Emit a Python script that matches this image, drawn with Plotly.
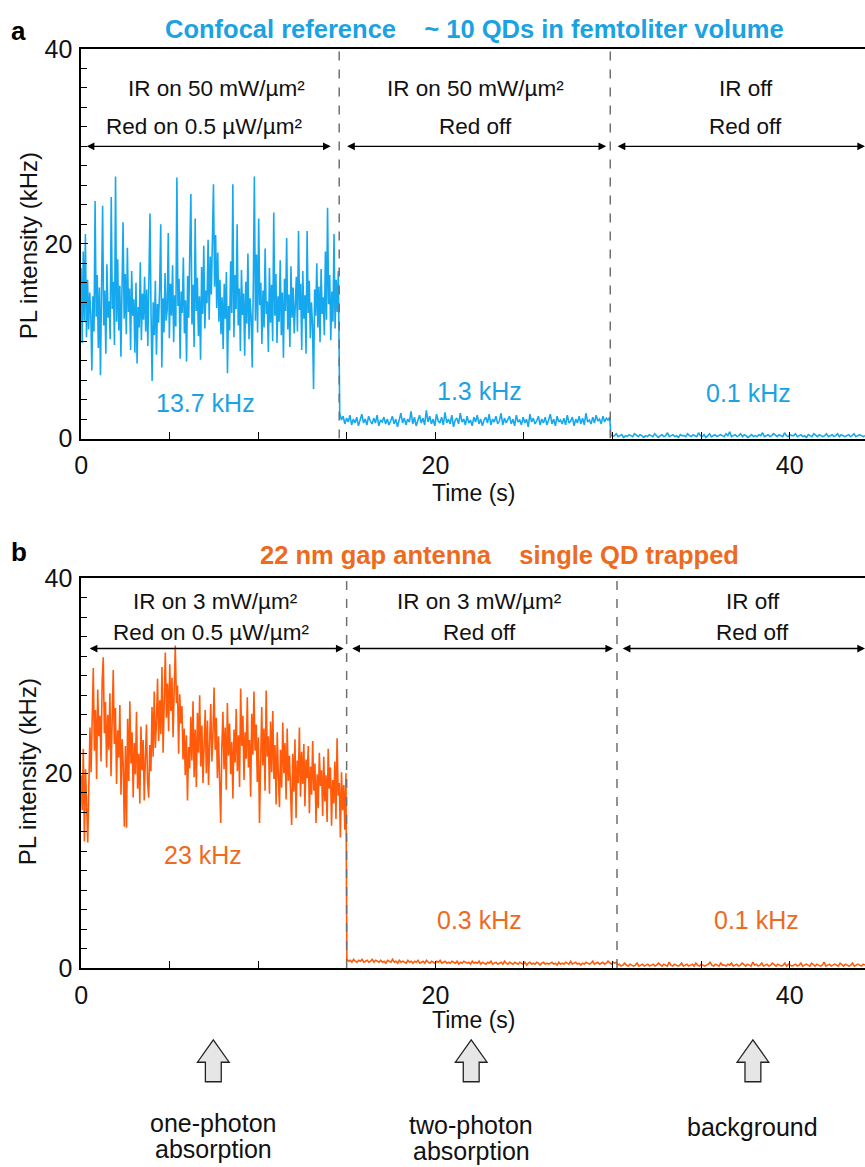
import numpy as np
import plotly.graph_objects as go

# ---------------- data (kHz) ----------------
# Panel a: confocal reference
a_seg1 = [17.5, 9.8, 19.2, 12.1, 21.0, 10.4, 16.3, 11.2, 15.0, 12.8, 7.0, 14.6, 11.0, 24.4, 12.5, 16.8, 9.3, 15.5, 6.5, 13.9,
          23.9, 11.6, 15.2, 8.7, 17.9, 12.4, 14.1, 10.2, 24.8, 13.3, 16.1, 9.6, 26.9, 12.0, 18.4, 11.1, 15.7, 8.4, 14.8, 22.2,
          12.3, 16.9, 10.7, 19.6, 13.0, 15.4, 9.1, 17.2, 12.6, 14.3, 8.8, 16.0, 7.7, 13.5, 11.4, 18.1, 10.1, 14.9, 12.2, 16.6,
          11.0, 15.3, 9.5, 17.4, 23.1, 12.7, 5.9, 14.0, 10.6, 16.2, 8.6, 13.8, 11.9, 15.6, 22.0, 7.3, 14.4, 10.9, 17.0, 12.1,
          13.2, 21.1, 10.3, 15.9, 12.6, 17.8, 9.9, 14.7, 11.5, 26.8, 13.6, 16.4, 8.2, 15.1, 12.9, 18.6, 10.8, 14.2, 7.9, 16.7,
          12.4, 19.3, 25.1, 11.7, 15.8, 9.4, 22.6, 13.1, 16.5, 10.5, 14.6, 8.1, 17.6, 12.8, 19.8, 11.3, 15.2, 13.9, 20.4, 12.2,
          18.7, 14.8, 21.5, 26.1, 15.6, 20.9, 13.4, 19.1, 12.0, 16.3, 10.7, 14.5, 9.2, 15.9, 12.3, 17.1, 6.7, 13.6, 11.1, 18.2,
          12.9, 26.1, 10.4, 16.8, 13.3, 22.0, 11.6, 15.4, 9.0, 17.3, 12.7, 14.9, 8.5, 16.1, 11.8, 19.0, 10.2, 14.4, 12.5, 7.3,
          15.7, 26.9, 12.1, 18.9, 10.9, 22.6, 13.7, 16.0, 9.7, 15.2, 11.4, 19.5, 12.8, 14.1, 8.9, 17.5, 11.9, 15.8, 10.0, 23.2,
          12.6, 16.9, 9.8, 14.6, 12.0, 18.3, 10.6, 15.0, 8.3, 16.4, 13.1, 20.6, 11.2, 14.8, 9.4, 17.7, 12.4, 15.5, 10.8, 13.9,
          16.6, 11.0, 21.3, 13.2, 15.9, 9.1, 17.2, 12.3, 14.7, 8.7, 21.3, 12.9, 16.2, 10.3, 14.0, 11.7, 5.1, 15.3, 12.6, 18.0,
          11.4, 15.6, 9.9, 17.4, 12.8, 14.5, 10.6, 19.2, 12.2, 23.7, 13.8, 16.8, 10.1, 15.1, 12.0, 21.0, 11.3, 16.3, 13.0, 17.2]
a_seg2 = [2.6, 1.9, 2.3, 1.5, 2.1, 1.7, 2.4, 1.4, 2.0, 1.6, 2.2, 1.3, 1.9, 2.5, 1.6, 2.0, 1.4, 2.3, 1.8, 1.5,
          2.1, 1.6, 2.4, 1.3, 1.9, 1.7, 2.2, 1.5, 2.0, 1.4, 1.8, 2.3, 1.5, 2.0, 1.2, 1.9, 2.6, 1.6, 2.1, 1.4,
          2.0, 1.7, 2.8, 1.5, 2.2, 1.3, 1.9, 2.4, 1.6, 2.1, 1.4, 2.9, 1.7, 2.3, 1.5, 2.0, 1.3, 2.5, 1.8, 1.6,
          2.2, 1.4, 2.7, 1.6, 2.0, 1.5, 2.4, 1.2, 1.9, 2.1, 1.5, 2.6, 1.7, 2.0, 1.4, 2.3, 1.6, 1.9, 1.3, 2.2,
          1.7, 2.4, 1.5, 2.0, 1.3, 1.9, 2.2, 1.6, 2.5, 1.4, 2.0, 1.7, 2.3, 1.5, 1.8, 2.6, 1.4, 2.1, 1.6, 1.9,
          2.3, 1.5, 2.0, 1.3, 2.4, 1.7, 1.9, 1.4, 2.2, 1.6, 2.0, 1.2, 2.5, 1.7, 2.1, 1.5, 1.8, 2.3, 1.4, 2.0,
          1.6, 2.2, 1.4, 1.9, 2.5, 1.5, 2.0, 1.3, 2.3, 1.7, 1.9, 1.5, 2.1, 1.4, 2.4, 1.6, 1.8, 2.2, 1.3, 2.0,
          1.6, 2.3, 1.5, 2.1, 1.4, 2.6, 1.7, 1.9, 1.5, 2.2, 1.6, 2.4, 1.8, 2.0, 1.5, 2.3, 1.7, 2.1, 1.9, 2.2]
a_seg3 = [0.4, 0.2, 0.3, 0.5, 0.2, 0.3, 0.4, 0.1, 0.3, 0.2, 0.4, 0.3, 0.2, 0.5, 0.3, 0.2, 0.4, 0.3, 0.1, 0.3,
          0.2, 0.4, 0.3, 0.2, 0.5, 0.3, 0.1, 0.3, 0.4, 0.2, 0.3, 0.6, 0.2, 0.3, 0.4, 0.2, 0.3, 0.1, 0.4, 0.3,
          0.3, 0.2, 0.5, 0.3, 0.2, 0.4, 0.3, 0.2, 0.6, 0.3, 0.2, 0.4, 0.1, 0.3, 0.5, 0.2, 0.3, 0.4, 0.2, 0.3,
          0.4, 0.3, 0.2, 0.5, 0.3, 0.7, 0.2, 0.3, 0.4, 0.2, 0.3, 0.5, 0.2, 0.4, 0.3, 0.1, 0.3, 0.4, 0.2, 0.3,
          0.2, 0.4, 0.3, 0.6, 0.2, 0.3, 0.4, 0.2, 0.3, 0.5, 0.3, 0.2, 0.4, 0.3, 0.2, 0.6, 0.3, 0.2, 0.4, 0.3,
          0.3, 0.5, 0.2, 0.3, 0.4, 0.2, 0.3, 0.1, 0.4, 0.3, 0.2, 0.5, 0.3, 0.2, 0.4, 0.3, 0.2, 0.3, 0.5, 0.2,
          0.3, 0.4, 0.2, 0.3, 0.5, 0.2, 0.4, 0.3, 0.2, 0.3, 0.4, 0.2, 0.3, 0.5, 0.2, 0.3, 0.4, 0.3, 0.2, 0.3]

# Panel b: 22 nm gap antenna
b_seg1 = [19.8, 16.2, 22.5, 13.0, 20.4, 15.1, 12.9, 18.6, 24.7, 20.1, 27.9, 30.8, 22.3, 26.5, 19.4, 28.6, 23.8, 25.9, 21.2, 29.4,
          31.9, 24.1, 27.3, 20.6, 26.0, 22.4, 28.2, 19.7, 25.3, 30.6, 23.0, 26.7, 18.9, 24.4, 21.6, 27.0, 17.8, 23.5, 20.9, 14.5,
          22.8, 14.4, 25.6, 19.2, 27.4, 21.0, 24.2, 17.5, 23.1, 19.9, 26.3, 18.4, 22.0, 16.9, 24.8, 20.3, 23.4, 17.2, 21.5, 25.0,
          19.1, 17.5, 22.9, 20.2, 26.8, 21.7, 28.4, 22.6, 25.2, 29.7, 23.3, 27.5, 24.0, 30.9, 22.1, 28.0, 32.4, 25.7, 29.2, 24.3,
          31.2, 26.4, 29.8, 23.7, 30.3, 33.1, 27.2, 29.0, 22.0, 28.1, 25.1, 26.9, 21.4, 24.6, 19.8, 23.9, 17.2, 22.7, 20.5, 25.8,
          21.3, 27.4, 19.6, 24.5, 18.6, 26.2, 22.1, 28.0, 20.7, 24.9, 19.0, 23.6, 26.5, 20.0, 25.4, 18.8, 22.9, 27.1, 21.2, 24.0,
          28.8, 22.4, 25.7, 19.5, 23.8, 17.9, 14.9, 22.6, 26.3, 20.4, 24.7, 18.3, 27.2, 21.8, 25.1, 19.9, 23.2, 17.4, 24.5, 21.1,
          26.6, 20.2, 23.9, 18.6, 28.7, 22.8, 25.9, 19.3, 24.2, 21.5, 27.8, 20.6, 23.4, 17.6, 26.1, 21.9, 28.4, 22.3, 25.0, 19.1,
          23.7, 14.9, 22.5, 26.8, 20.8, 24.6, 18.2, 28.5, 21.7, 23.8, 17.9, 25.3, 20.1, 26.4, 19.4, 22.9, 16.8, 24.2, 19.7, 16.5,
          22.4, 18.5, 25.2, 20.0, 23.1, 17.3, 24.6, 19.2, 21.8, 16.7, 14.7, 22.0, 18.1, 23.5, 15.4, 21.3, 19.0, 24.7, 17.6, 22.2,
          18.9, 23.0, 16.6, 21.4, 19.5, 22.8, 15.9, 20.7, 17.8, 23.3, 18.2, 21.0, 14.9, 19.9, 16.4, 22.1, 18.7, 20.3, 15.6, 21.7,
          17.1, 19.8, 15.0, 22.5, 18.4, 20.6, 14.6, 19.3, 16.9, 21.2, 15.3, 23.6, 17.7, 19.0, 13.4, 20.1, 16.2, 18.8, 14.2, 20.0]
b_seg2 = [0.9, 0.7, 0.8, 0.6, 0.9, 0.7, 0.6, 0.8, 0.7, 0.9, 0.6, 0.7, 0.8, 0.6, 0.7, 0.9, 0.6, 0.8, 0.7, 0.6,
          0.8, 0.6, 0.7, 0.5, 0.8, 0.7, 0.6, 0.9, 0.6, 0.7, 0.5, 0.8, 0.6, 0.7, 0.6, 0.5, 0.8, 0.6, 0.7, 0.5,
          0.7, 0.6, 0.8, 0.5, 0.6, 0.7, 0.5, 0.8, 0.6, 0.5, 0.7, 0.6, 0.5, 0.7, 0.6, 0.8, 0.5, 0.6, 0.7, 0.5,
          0.6, 0.5, 0.7, 0.6, 0.5, 0.7, 0.4, 0.6, 0.5, 0.7, 0.6, 0.5, 0.6, 0.4, 0.7, 0.5, 0.6, 0.5, 0.7, 0.4,
          0.6, 0.5, 0.4, 0.6, 0.5, 0.7, 0.4, 0.5, 0.6, 0.4, 0.5, 0.6, 0.4, 0.7, 0.5, 0.4, 0.6, 0.5, 0.4, 0.6,
          0.5, 0.4, 0.6, 0.5, 0.4, 0.6, 0.3, 0.5, 0.6, 0.4, 0.5, 0.4, 0.6, 0.5, 0.3, 0.5, 0.6, 0.4, 0.5, 0.4,
          0.5, 0.6, 0.4, 0.5, 0.3, 0.6, 0.4, 0.5, 0.4, 0.6, 0.5, 0.4, 0.7, 0.4, 0.5, 0.6, 0.4, 0.5, 0.3, 0.5,
          0.4, 0.6, 0.5, 0.4, 0.5, 0.7, 0.4, 0.5, 0.6, 0.4, 0.5, 0.6, 0.4, 0.5, 0.7, 0.5, 0.4, 0.6, 0.5, 0.6]
b_seg3 = [0.3, 0.4, 0.2, 0.3, 0.5, 0.3, 0.2, 0.4, 0.3, 0.2, 0.3, 0.5, 0.2, 0.3, 0.4, 0.2, 0.3, 0.4, 0.2, 0.3,
          0.4, 0.2, 0.3, 0.5, 0.3, 0.2, 0.4, 0.3, 0.2, 0.6, 0.3, 0.2, 0.4, 0.3, 0.2, 0.3, 0.5, 0.2, 0.3, 0.4,
          0.2, 0.3, 0.4, 0.2, 0.5, 0.3, 0.2, 0.4, 0.3, 0.2, 0.3, 0.4, 0.6, 0.3, 0.2, 0.4, 0.3, 0.2, 0.5, 0.3,
          0.3, 0.2, 0.4, 0.3, 0.5, 0.2, 0.3, 0.4, 0.2, 0.3, 0.5, 0.3, 0.2, 0.4, 0.3, 0.2, 0.6, 0.3, 0.4, 0.2,
          0.3, 0.5, 0.2, 0.3, 0.4, 0.2, 0.3, 0.5, 0.3, 0.2, 0.4, 0.3, 0.2, 0.3, 0.5, 0.2, 0.4, 0.3, 0.2, 0.3,
          0.4, 0.2, 0.3, 0.5, 0.2, 0.3, 0.4, 0.3, 0.2, 0.5, 0.3, 0.2, 0.4, 0.3, 0.2, 0.3, 0.6, 0.2, 0.3, 0.4,
          0.2, 0.3, 0.4, 0.3, 0.2, 0.5, 0.3, 0.2, 0.4, 0.3, 0.2, 0.3, 0.5, 0.2, 0.3, 0.4, 0.3, 0.2, 0.4, 0.3]

# Time windows (s) of the three conditions for each panel
a_windows = [(0.0, 14.52), (14.6, 29.84), (29.9, 44.25)]
b_windows = [(0.0, 14.95), (15.0, 30.22), (30.28, 44.25)]
a_switch = [14.57, 29.87]
b_switch = [14.99, 30.25]

a_headers = [("IR on 50 mW/µm²", "Red on 0.5 µW/µm²"), ("IR on 50 mW/µm²", "Red off"), ("IR off", "Red off")]
b_headers = [("IR on 3 mW/µm²", "Red on 0.5 µW/µm²"), ("IR on 3 mW/µm²", "Red off"), ("IR off", "Red off")]
a_levels = ["13.7 kHz", "1.3 kHz", "0.1 kHz"]
b_levels = ["23 kHz", "0.3 kHz", "0.1 kHz"]
bottom_labels = [("one-photon", "absorption"), ("two-photon", "absorption"), ("background", "")]

x_ticks = [0, 20, 40]
y_ticks = [0, 20, 40]

# ---------------- styling ----------------
W, H = 865, 1167
FONT = "Liberation Sans, Arial, sans-serif"
BLUE_LINE = "#16A8EF"
BLUE_TXT = "#1AA2E2"
ORANGE_LINE = "#FF5B0A"
ORANGE_TXT = "#EE6A1E"
XMAX = 44.25


def px(x):
    return x / W


def py(y):
    return 1 - y / H


def series(segs, windows):
    t, v = [], []
    for s, (t0, t1) in zip(segs, windows):
        t.extend(np.linspace(t0, t1, len(s)))
        v.extend(s)
    return t, v


ta, va = series([a_seg1, a_seg2, a_seg3], a_windows)
tb, vb = series([b_seg1, b_seg2, b_seg3], b_windows)

fig = go.Figure()
fig.add_trace(go.Scatter(x=ta, y=va, mode="lines", line=dict(color=BLUE_LINE, width=1.6),
                         xaxis="x", yaxis="y", showlegend=False, hoverinfo="skip"))
fig.add_trace(go.Scatter(x=tb, y=vb, mode="lines", line=dict(color=ORANGE_LINE, width=1.6),
                         xaxis="x2", yaxis="y2", showlegend=False, hoverinfo="skip"))

xdom = [74.7 / W, 1.0]
ydom_a = [py(435), py(35.8)]
ydom_b = [py(977.5), py(578.3)]

xcommon = dict(range=[0, XMAX], showline=True, linecolor="black", linewidth=1.5, mirror=True,
               ticks="inside", tickvals=x_ticks, ticklen=7, tickwidth=1.3, tickcolor="black",
               minor=dict(dtick=5, tick0=0, ticks="inside", ticklen=7, tickwidth=1.3, tickcolor="black"),
               showgrid=False, zeroline=False, ticklabelstandoff=4,
               tickfont=dict(family=FONT, size=25, color="#111"))
ycommon = dict(range=[0, 40], showline=True, linecolor="black", linewidth=1.5, mirror=False,
               ticks="inside", tickvals=y_ticks, ticklen=7, tickwidth=1.3, tickcolor="black",
               minor=dict(dtick=2, tick0=0, ticks="inside", ticklen=6, tickwidth=1.3, tickcolor="black"),
               showgrid=False, zeroline=False, ticklabelstandoff=2,
               tickfont=dict(family=FONT, size=25, color="#111"))

fig.update_layout(
    width=W, height=H, margin=dict(l=0, r=0, t=0, b=0),
    paper_bgcolor="white", plot_bgcolor="white", showlegend=False,
    xaxis=dict(domain=xdom, anchor="y", **xcommon),
    yaxis=dict(domain=ydom_a, anchor="x", **ycommon),
    xaxis2=dict(domain=xdom, anchor="y2", **xcommon),
    yaxis2=dict(domain=ydom_b, anchor="x2", **ycommon),
)

ann = []
shapes = []

panels = [
    dict(xr="x", yr="y", sw=a_switch, hdr=a_headers, lv=a_levels, col=BLUE_TXT,
         title="Confocal reference    ~ 10 QDs in femtoliter volume", title_x=471, title_y=15.5,
         letter="a", letter_y=17.5,
         hdr_y=(76.8, 115.7), arrow_y=30.0, arrow_x=[(0.23, 14.09), (14.93, 29.64), (30.2, XMAX)],
         hdr_x=[(211, 199), (472, 472), (745, 745)], lv_pos=[(200, 399), (476, 386), (748, 388)],
         xt_y=491, yt_y=237),
    dict(xr="x2", yr="y2", sw=b_switch, hdr=b_headers, lv=b_levels, col=ORANGE_TXT,
         title="22 nm gap antenna    single QD trapped", title_x=497, title_y=554.8,
         letter="b", letter_y=551,
         hdr_y=(601.8, 633.6), arrow_y=32.8, arrow_x=[(0.4, 14.82), (15.22, 30.03), (30.49, XMAX)],
         hdr_x=[(210, 206), (476, 476), (752, 752)], lv_pos=[(198, 861.8), (476, 928.4), (756, 928.4)],
         xt_y=1031, yt_y=776),
]

for p in panels:
    for s in p["sw"]:
        shapes.append(dict(type="line", xref=p["xr"], yref=p["yr"], x0=s, x1=s, y0=0, y1=40,
                           line=dict(color="#707070", width=1.5, dash="dash"), layer="above"))
    for (x0, x1) in p["arrow_x"]:
        ann.append(dict(xref=p["xr"], yref=p["yr"], axref=p["xr"], ayref=p["yr"],
                        x=x1, y=p["arrow_y"], ax=x0, ay=p["arrow_y"], text="", showarrow=True,
                        arrowside="end+start", arrowhead=2, startarrowhead=2, arrowsize=1.1,
                        startarrowsize=1.1, arrowwidth=1.4, arrowcolor="black", standoff=0, startstandoff=0))
    for (l1, l2), (hx1, hx2) in zip(p["hdr"], p["hdr_x"]):
        ann.append(dict(xref="paper", yref="paper", x=px(hx1), y=py(p["hdr_y"][0]), text=l1, showarrow=False,
                        xanchor="center", yanchor="middle", font=dict(family=FONT, size=22.5, color="#111")))
        ann.append(dict(xref="paper", yref="paper", x=px(hx2), y=py(p["hdr_y"][1]), text=l2, showarrow=False,
                        xanchor="center", yanchor="middle", font=dict(family=FONT, size=22.5, color="#111")))
    for txt, (lx, ly) in zip(p["lv"], p["lv_pos"]):
        ann.append(dict(xref="paper", yref="paper", x=px(lx), y=py(ly), text=txt, showarrow=False,
                        xanchor="center", yanchor="middle", font=dict(family=FONT, size=25, color=p["col"])))
    ann.append(dict(xref="paper", yref="paper", x=px(p["title_x"]), y=py(p["title_y"]),
                    text="<b>" + p["title"] + "</b>",
                    showarrow=False, xanchor="center", yanchor="middle",
                    font=dict(family=FONT, size=25.5, color=p["col"])))
    ann.append(dict(xref="paper", yref="paper", x=px(12), y=py(p["letter_y"]), text="<b>" + p["letter"] + "</b>",
                    showarrow=False, xanchor="center", yanchor="middle",
                    font=dict(family=FONT, size=26, color="black")))
    ann.append(dict(xref="paper", yref="paper", x=px(470), y=py(p["xt_y"]), text="Time (s)",
                    showarrow=False, xanchor="center", yanchor="middle",
                    font=dict(family=FONT, size=23, color="#111")))
    ann.append(dict(xref="paper", yref="paper", x=px(21), y=py(p["yt_y"]), text="PL intensity (kHz)",
                    showarrow=False, xanchor="center", yanchor="middle", textangle=-90,
                    font=dict(family=FONT, size=24, color="#111")))

# bottom block arrows + labels
arrow_cx = [208, 468, 752]
label_y = [(1136, 1163), (1138, 1165), (1140, None)]
tip_y, neck_y, base_y = 1051, 1074, 1094
head_hw, shaft_hw = 16, 8
for cx, (l1, l2), (y1, y2) in zip(arrow_cx, bottom_labels, label_y):
    pts = [(cx, tip_y), (cx + head_hw, neck_y), (cx + shaft_hw, neck_y), (cx + shaft_hw, base_y),
           (cx - shaft_hw, base_y), (cx - shaft_hw, neck_y), (cx - head_hw, neck_y)]
    path = "M " + " L ".join(f"{px(x):.5f},{py(y):.5f}" for x, y in pts) + " Z"
    shapes.append(dict(type="path", xref="paper", yref="paper", path=path,
                       fillcolor="#E6E6E6", line=dict(color="#222", width=1.3)))
    ann.append(dict(xref="paper", yref="paper", x=px(cx), y=py(y1), text=l1, showarrow=False,
                    xanchor="center", yanchor="middle", font=dict(family=FONT, size=25, color="#111")))
    if l2:
        ann.append(dict(xref="paper", yref="paper", x=px(cx), y=py(y2), text=l2, showarrow=False,
                        xanchor="center", yanchor="middle", font=dict(family=FONT, size=25, color="#111")))

fig.update_layout(annotations=ann, shapes=shapes)
fig.write_html("out.html", config={"displayModeBar": False},
               post_script="document.body.style.margin='0px';document.documentElement.style.overflow='hidden';document.body.style.overflow='hidden';")
